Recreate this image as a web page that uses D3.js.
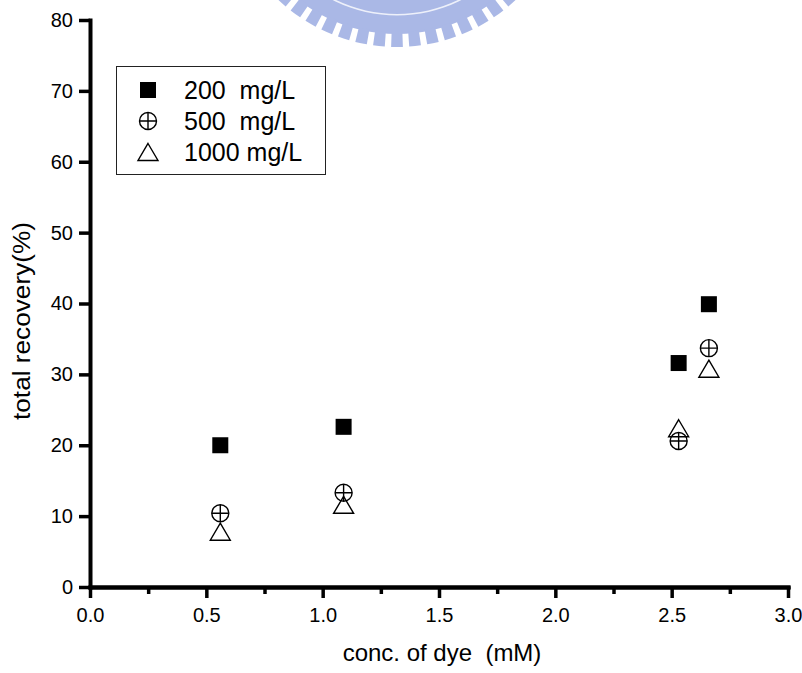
<!DOCTYPE html>
<html lang="en">
    <head>
        <meta charset="utf-8">
        <title>total recovery vs conc. of dye</title>
        <script type="text/javascript" src="https://cdn.jsdelivr.net/npm/d3@7"></script>
        <style type="text/css">
            body { margin: 0; background: #fff; }
            svg text {
                font-family: "Liberation Sans", Arial, sans-serif;
                fill: #000;
            }
            .axis text {
                font-size: 20px;
            }
            .legend text {
                font-size: 25px;
                white-space: pre;
            }
        </style>
    </head>
    <body>
        <script type="text/javascript">

            // Data
            var concDye   = [0.56, 1.09, 2.53, 2.66];   // mM
            var rec200    = [20.0, 22.6, 31.6, 39.9];
            var rec500    = [10.4, 13.3, 20.6, 33.7];
            var rec1000   = [7.8, 11.6, 22.4, 30.8];
            var seriesNames = ["200  mg/L", "500  mg/L", "1000 mg/L"];
            var xTicks = [0, 0.5, 1.0, 1.5, 2.0, 2.5, 3.0];
            var xMinorTicks = [0.25, 0.75, 1.25, 1.75, 2.25, 2.75];
            var yTicks = [0, 10, 20, 30, 40, 50, 60, 70, 80];

            var w = 802;
            var h = 673;

            var svg = d3.select("body")
                        .append("svg")
                        .attr("width", w)
                        .attr("height", h);

            // faint watermark logo at the top (just decoration)
            var wm = svg.append("g")
                        .attr("transform", "translate(397,-126)")
                        .attr("opacity", 0.75);
            wm.append("path")
              .attr("d", d3.arc()({innerRadius: 126, outerRadius: 160,
                                   startAngle: Math.PI - 0.9, endAngle: Math.PI + 0.9}))
              .attr("fill", "#8ea1de");
            wm.append("path")
              .attr("d", d3.arc()({innerRadius: 140, outerRadius: 141.5,
                                   startAngle: Math.PI - 0.9, endAngle: Math.PI + 0.9}))
              .attr("fill", "#fff")
              .attr("opacity", 0.8);
            wm.selectAll(".tooth")
              .data(d3.range(-8, 9))
              .enter()
              .append("path")
              .attr("class", "tooth")
              .attr("d", function(i) {
                  var a = Math.PI + i * 6 * Math.PI / 180;
                  return d3.arc()({innerRadius: 158, outerRadius: 173,
                                   startAngle: a - 0.034, endAngle: a + 0.034});
              })
              .attr("fill", "#8ea1de");

            // Scales
            var xScale = d3.scaleLinear()
                           .domain([0, 3])
                           .range([90, 788]);
            var yScale = d3.scaleLinear()
                           .domain([0, 80])
                           .range([587, 20]);

            // Axes
            var xAxis = d3.axisBottom(xScale)
                          .tickValues(xTicks)
                          .tickFormat(d3.format(".1f"))
                          .tickSize(11)
                          .tickSizeOuter(0)
                          .tickPadding(10);
            var xMinor = d3.axisBottom(xScale)
                           .tickValues(xMinorTicks)
                           .tickFormat("")
                           .tickSize(7)
                           .tickSizeOuter(0);
            var yAxis = d3.axisLeft(yScale)
                          .tickValues(yTicks)
                          .tickSize(11)
                          .tickSizeOuter(0)
                          .tickPadding(6);

            svg.append("g")
               .attr("class", "x axis minor")
               .attr("transform", "translate(0," + yScale(0) + ")")
               .call(xMinor);
            svg.append("g")
               .attr("class", "x axis")
               .attr("transform", "translate(0," + yScale(0) + ")")
               .call(xAxis);
            svg.append("g")
               .attr("class", "y axis")
               .attr("transform", "translate(" + xScale(0) + ",0)")
               .call(yAxis);

            // thick Origin-style axis strokes
            svg.selectAll(".axis .domain")
               .style("stroke", "#000")
               .style("stroke-width", "4px")
               .style("stroke-linecap", "square")
               .style("fill", "none");
            svg.selectAll(".axis .tick line")
               .style("stroke", "#000")
               .style("stroke-width", "3.5px");

            // Axis titles
            svg.append("text")
               .attr("x", 442)
               .attr("y", 661)
               .attr("text-anchor", "middle")
               .style("font-size", "24px")
               .style("white-space", "pre")
               .text("conc. of dye  (mM)");
            svg.append("text")
               .attr("transform", "translate(30,321) rotate(-90)")
               .attr("text-anchor", "middle")
               .attr("textLength", 198)
               .attr("lengthAdjust", "spacingAndGlyphs")
               .style("font-size", "23px")
               .text("total recovery(%)");

            // Marker drawing
            function drawSquare(g) {
                g.append("rect")
                 .attr("x", -8).attr("y", -8)
                 .attr("width", 16).attr("height", 16)
                 .attr("fill", "#000");
            }
            function drawCirclePlus(g) {
                g.append("circle").attr("r", 8.5)
                 .attr("fill", "none").attr("stroke", "#000").attr("stroke-width", 1.4);
                g.append("path").attr("d", "M-8.5,0H8.5M0,-8.5V8.5")
                 .attr("stroke", "#000").attr("stroke-width", 1.4);
            }
            function drawTriangle(g) {
                g.append("path").attr("d", "M0,-8.5L10,8.5L-10,8.5Z")
                 .attr("fill", "none").attr("stroke", "#000").attr("stroke-width", 1.4);
            }
            var drawers = [drawSquare, drawCirclePlus, drawTriangle];
            var seriesVals = [rec200, rec500, rec1000];

            seriesVals.forEach(function(vals, s) {
                svg.append("g")
                   .attr("class", "series-" + s)
                   .selectAll("g")
                   .data(vals)
                   .enter()
                   .append("g")
                   .attr("transform", function(d, i) {
                       return "translate(" + xScale(concDye[i]) + "," + yScale(d) + ")";
                   })
                   .each(function() { drawers[s](d3.select(this)); });
            });

            // Legend
            var legend = svg.append("g").attr("class", "legend");
            legend.append("rect")
                  .attr("x", 116.5).attr("y", 66.5)
                  .attr("width", 209).attr("height", 108)
                  .attr("fill", "#fff")
                  .attr("stroke", "#222")
                  .attr("stroke-width", 1);
            var rowY = [90, 121, 152];
            seriesNames.forEach(function(name, s) {
                var g = legend.append("g")
                              .attr("transform", "translate(148," + rowY[s] + ")");
                drawers[s](g);
                legend.append("text")
                      .attr("x", 184)
                      .attr("y", rowY[s] + 8.5)
                      .text(name);
            });

        </script>
    </body>
</html>
